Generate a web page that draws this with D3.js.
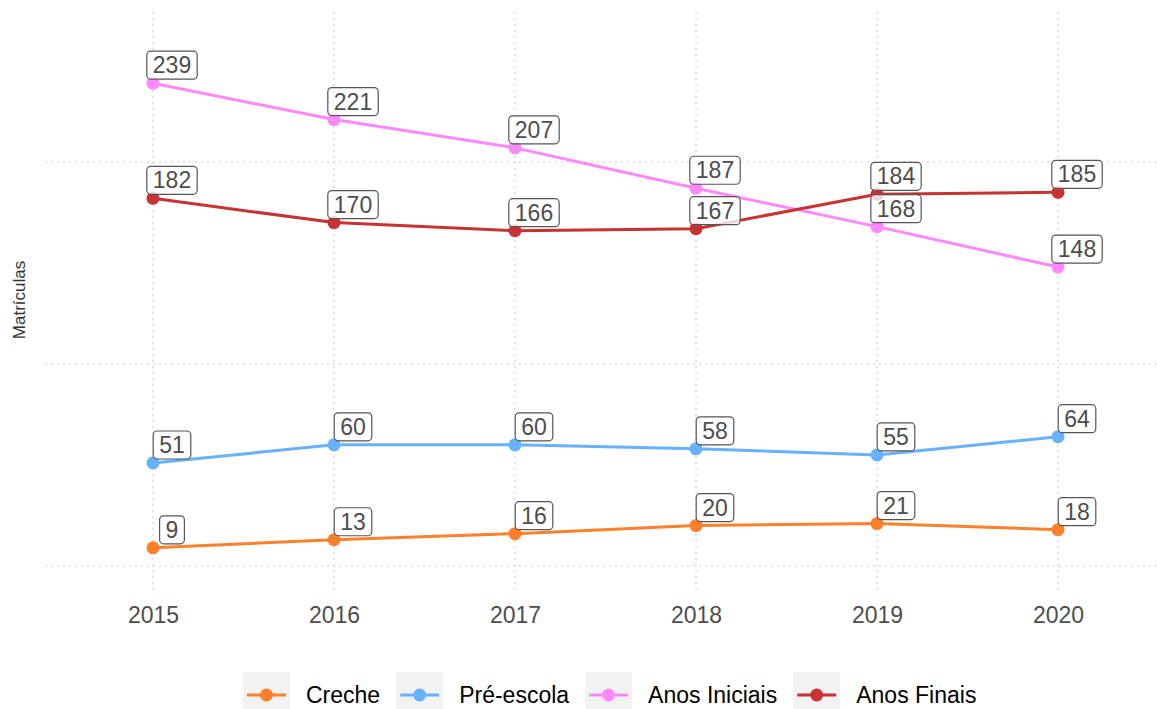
<!DOCTYPE html>
<html>
<head>
<meta charset="utf-8">
<script src="https://cdn.jsdelivr.net/npm/d3@7"></script>
<style>
  body { margin: 0; background: #fff; overflow: hidden; }
  text { font-family: "Liberation Sans", Arial, sans-serif; }
</style>
</head>
<body>
<div id="chart"></div>
<script>
// matrículas por etapa, 2015-2020
var years = [2015, 2016, 2017, 2018, 2019, 2020]
var creche = [9, 13, 16, 20, 21, 18]
var preEscola = [51, 60, 60, 58, 55, 64]
var anosIniciais = [239, 221, 207, 187, 168, 148]
var anosFinais = [182, 170, 166, 167, 184, 185]
var seriesNames = ["Creche", "Pré-escola", "Anos Iniciais", "Anos Finais"]
var colors = ["#ff7f2a", "#66b2ff", "#ff88ff", "#c83232"]
var yGrid = [0, 100, 200]

var width = 1157, height = 709

var series = [creche, preEscola, anosIniciais, anosFinais].map((vals, i) => ({
    name: seriesNames[i],
    color: colors[i],
    values: vals.map((v, j) => ({year: years[j], value: v}))
}))

var x = d3.scaleLinear().domain([2015, 2020]).range([153, 1058])
var y = d3.scaleLinear().domain([0, 200]).range([566, 162])

var svg = d3.select("#chart").append("svg")
    .attr("width", width).attr("height", height)
    .style("display", "block")

// grid
var grid = svg.append("g")
    .attr("stroke", "#c8c8c8")
    .attr("stroke-width", 1)
    .attr("stroke-dasharray", "2,4")
grid.selectAll(".gx").data(years).enter().append("line")
    .attr("x1", d => x(d)).attr("x2", d => x(d))
    .attr("y1", 12).attr("y2", 593)
grid.selectAll(".gy").data(yGrid).enter().append("line")
    .attr("x1", 45).attr("x2", width)
    .attr("y1", d => y(d)).attr("y2", d => y(d))

// x axis labels
svg.append("g")
    .attr("transform", "translate(0,615)")
    .call(d3.axisBottom(x).tickValues(years).tickFormat(d3.format("d")).tickSize(0).tickPadding(0))
    .call(g => g.select(".domain").remove())
    .attr("font-size", 23)
    .attr("font-family", "Liberation Sans, Arial, sans-serif")
    .call(g => g.selectAll("text")
        .attr("fill", "#4d4d4d")
        .attr("y", 0)
        .attr("dy", "0.35em"))

svg.append("text")
    .attr("transform", "translate(25,300) rotate(-90)")
    .attr("text-anchor", "middle")
    .attr("font-size", 17)
    .attr("fill", "#333")
    .text("Matrículas")

var line = d3.line().x(d => x(d.year)).y(d => y(d.value))

svg.append("g").selectAll("path")
    .data(series)
    .enter().append("path")
    .attr("fill", "none")
    .attr("stroke", d => d.color)
    .attr("stroke-width", 3)
    .attr("d", d => line(d.values))

series.forEach(s => {
    svg.append("g").selectAll("circle")
        .data(s.values)
        .enter().append("circle")
        .attr("cx", d => x(d.year))
        .attr("cy", d => y(d.value))
        .attr("r", 6.5)
        .attr("fill", s.color)
})

// value labels
var labels = svg.append("g")
series.forEach(s => {
    s.values.forEach(d => {
        var g = labels.append("g")
        var cx = x(d.year) + 19, bottom = y(d.value) - 4
        var rect = g.append("rect")
        var t = g.append("text")
            .attr("x", cx)
            .attr("y", bottom - 6)
            .attr("text-anchor", "middle")
            .attr("font-size", 23)
            .attr("fill", "#4d4d4d")
            .text(d.value)
        var w = t.node().getComputedTextLength() + 12
        rect.attr("x", cx - w / 2).attr("y", bottom - 28)
            .attr("width", w).attr("height", 28)
            .attr("rx", 4)
            .attr("fill", "#fff").attr("fill-opacity", 0.8)
            .attr("stroke", "#555").attr("stroke-width", 1.2)
    })
})

// legend
var legend = svg.append("g")
var lx = 243
series.forEach(s => {
    var g = legend.append("g").attr("transform", `translate(${lx},672)`)
    g.append("rect").attr("width", 47).attr("height", 46).attr("fill", "#f2f2f2")
    g.append("line").attr("x1", 4).attr("x2", 43).attr("y1", 23).attr("y2", 23)
        .attr("stroke", s.color).attr("stroke-width", 3)
    g.append("circle").attr("cx", 23.5).attr("cy", 23).attr("r", 6.5).attr("fill", s.color)
    var t = g.append("text").attr("x", 63).attr("y", 23).attr("dy", "0.35em")
        .attr("font-size", 23).attr("fill", "#000").text(s.name)
    lx += 63 + t.node().getComputedTextLength() + 16
})
</script>
</body>
</html>
